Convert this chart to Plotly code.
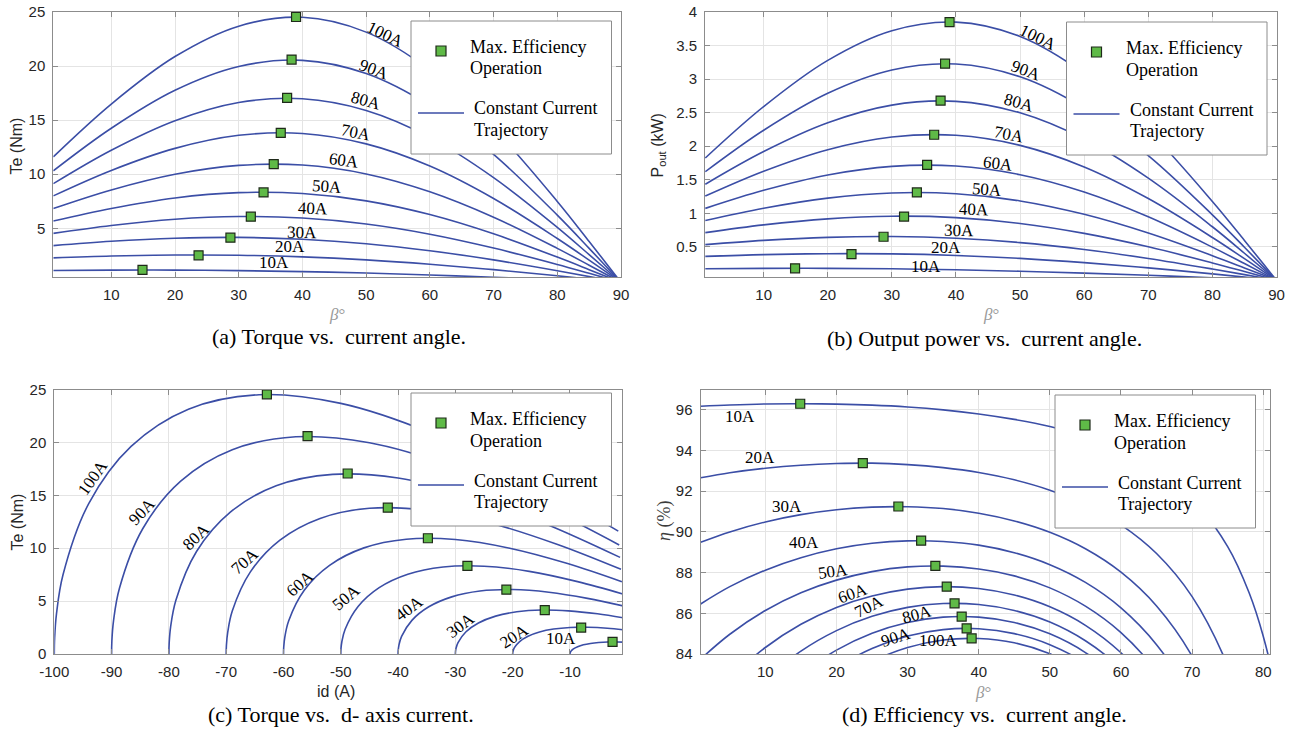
import plotly.graph_objects as go

# ---------------------------------------------------------------- data
currents = ["10A", "20A", "30A", "40A", "50A", "60A", "70A", "80A", "90A", "100A"]

# current angle samples (deg) for torque / power / d-axis current curves
beta_grid = [0.9, 10, 20, 30, 40, 50, 60, 70, 80, 85, 88, 90]
# current angle samples (deg) for efficiency curves
beta_grid_eff = [0.9, 5, 10, 15, 20, 25, 30, 35, 40, 45, 50, 55, 60, 65, 70, 75, 78, 80, 82, 85]

# electromagnetic torque Te (Nm) along each constant-current trajectory
te_10a = [1.10, 1.14, 1.14, 1.09, 1.00, 0.87, 0.69, 0.48, 0.25, 0.12, 0.05, 0.00]
te_20a = [2.27, 2.44, 2.53, 2.51, 2.36, 2.08, 1.68, 1.18, 0.61, 0.31, 0.12, 0.00]
te_30a = [3.40, 3.80, 4.08, 4.16, 3.99, 3.58, 2.93, 2.08, 1.08, 0.54, 0.22, 0.00]
te_40a = [4.53, 5.26, 5.84, 6.09, 5.95, 5.40, 4.46, 3.18, 1.66, 0.84, 0.34, 0.00]
te_50a = [5.68, 6.84, 7.81, 8.30, 8.22, 7.54, 6.27, 4.49, 2.34, 1.18, 0.47, 0.00]
te_60a = [6.83, 8.55, 10.00, 10.82, 10.85, 10.03, 8.38, 6.03, 3.15, 1.59, 0.64, 0.00]
te_70a = [8.00, 10.35, 12.39, 13.60, 13.77, 12.81, 10.76, 7.76, 4.06, 2.06, 0.83, 0.00]
te_80a = [9.13, 12.22, 14.95, 16.63, 16.98, 15.90, 13.41, 9.69, 5.09, 2.57, 1.03, 0.00]
te_90a = [10.31, 14.25, 17.76, 19.96, 20.53, 19.31, 16.34, 11.84, 6.22, 3.15, 1.26, 0.00]
te_100a = [11.61, 16.49, 20.88, 23.69, 24.51, 23.14, 19.62, 14.24, 7.49, 3.79, 1.52, 0.00]

# output power (kW)
pout_10a = [0.174, 0.179, 0.179, 0.172, 0.157, 0.136, 0.108, 0.075, 0.039, 0.019, 0.008, 0.000]
pout_20a = [0.357, 0.383, 0.397, 0.394, 0.371, 0.327, 0.264, 0.186, 0.096, 0.048, 0.019, 0.000]
pout_30a = [0.533, 0.596, 0.641, 0.653, 0.627, 0.563, 0.460, 0.326, 0.169, 0.085, 0.034, 0.000]
pout_40a = [0.712, 0.827, 0.917, 0.956, 0.935, 0.848, 0.700, 0.500, 0.260, 0.131, 0.053, 0.000]
pout_50a = [0.892, 1.075, 1.226, 1.303, 1.291, 1.184, 0.984, 0.705, 0.368, 0.186, 0.075, 0.000]
pout_60a = [1.073, 1.342, 1.571, 1.699, 1.704, 1.575, 1.317, 0.947, 0.495, 0.250, 0.100, 0.000]
pout_70a = [1.256, 1.626, 1.947, 2.136, 2.162, 2.012, 1.690, 1.219, 0.639, 0.323, 0.130, 0.000]
pout_80a = [1.433, 1.920, 2.349, 2.612, 2.668, 2.497, 2.106, 1.523, 0.799, 0.404, 0.162, 0.000]
pout_90a = [1.620, 2.238, 2.789, 3.136, 3.225, 3.034, 2.566, 1.860, 0.977, 0.494, 0.198, 0.000]
pout_100a = [1.824, 2.590, 3.279, 3.721, 3.849, 3.635, 3.082, 2.237, 1.176, 0.595, 0.239, 0.000]

# d-axis current (A) at the same samples
id_10a = [-0.16, -1.74, -3.42, -5.00, -6.43, -7.66, -8.66, -9.40, -9.85, -9.96, -9.99, -10.00]
id_20a = [-0.31, -3.47, -6.84, -10.00, -12.86, -15.32, -17.32, -18.79, -19.70, -19.92, -19.99, -20.00]
id_30a = [-0.47, -5.21, -10.26, -15.00, -19.28, -22.98, -25.98, -28.19, -29.54, -29.89, -29.98, -30.00]
id_40a = [-0.63, -6.95, -13.68, -20.00, -25.71, -30.64, -34.64, -37.59, -39.39, -39.85, -39.98, -40.00]
id_50a = [-0.79, -8.68, -17.10, -25.00, -32.14, -38.30, -43.30, -46.98, -49.24, -49.81, -49.97, -50.00]
id_60a = [-0.94, -10.42, -20.52, -30.00, -38.57, -45.96, -51.96, -56.38, -59.09, -59.77, -59.96, -60.00]
id_70a = [-1.10, -12.16, -23.94, -35.00, -45.00, -53.62, -60.62, -65.78, -68.94, -69.73, -69.96, -70.00]
id_80a = [-1.26, -13.89, -27.36, -40.00, -51.42, -61.28, -69.28, -75.18, -78.78, -79.70, -79.95, -80.00]
id_90a = [-1.41, -15.63, -30.78, -45.00, -57.85, -68.94, -77.94, -84.57, -88.63, -89.66, -89.95, -90.00]
id_100a = [-1.57, -17.36, -34.20, -50.00, -64.28, -76.60, -86.60, -93.97, -98.48, -99.62, -99.94, -100.00]

# efficiency (%) on beta_grid_eff
eta_10a = [96.18, 96.24, 96.29, 96.30, 96.28, 96.23, 96.14, 96.00, 95.80, 95.53, 95.18, 94.69, 94.02, 93.06, 91.62, 89.28, 87.02, 84.87, 81.82, 73.84]
eta_20a = [92.66, 92.91, 93.13, 93.28, 93.36, 93.38, 93.31, 93.16, 92.92, 92.56, 92.05, 91.34, 90.35, 88.94, 86.82, 83.43, 80.25, 77.28, 73.20, 63.16]
eta_30a = [89.49, 90.00, 90.49, 90.85, 91.09, 91.22, 91.24, 91.15, 90.92, 90.54, 89.98, 89.17, 88.02, 86.36, 83.89, 79.96, 76.33, 72.98, 68.46, 57.68]
eta_40a = [86.46, 87.31, 88.12, 88.73, 89.17, 89.44, 89.56, 89.53, 89.35, 88.98, 88.39, 87.52, 86.27, 84.46, 81.76, 77.48, 73.57, 70.00, 65.22, 54.09]
eta_50a = [83.75, 84.97, 86.14, 87.01, 87.63, 88.05, 88.28, 88.32, 88.18, 87.84, 87.25, 86.35, 85.05, 83.14, 80.29, 75.81, 71.72, 68.01, 63.09, 51.79]
eta_60a = [81.13, 82.78, 84.32, 85.46, 86.29, 86.85, 87.19, 87.31, 87.22, 86.90, 86.32, 85.41, 84.06, 82.09, 79.13, 74.49, 70.28, 66.48, 61.46, 50.07]
eta_70a = [78.73, 80.81, 82.73, 84.14, 85.15, 85.85, 86.29, 86.48, 86.43, 86.14, 85.57, 84.65, 83.28, 81.25, 78.22, 73.46, 69.16, 65.29, 60.21, 48.76]
eta_80a = [76.46, 79.01, 81.31, 82.99, 84.19, 85.02, 85.55, 85.81, 85.81, 85.55, 84.99, 84.07, 82.68, 80.62, 77.54, 72.69, 68.33, 64.42, 59.29, 47.81]
eta_90a = [74.36, 77.36, 80.03, 81.95, 83.32, 84.27, 84.88, 85.20, 85.24, 85.00, 84.46, 83.54, 82.13, 80.04, 76.91, 71.99, 67.57, 63.62, 58.46, 46.95]
eta_100a = [72.49, 75.91, 78.92, 81.05, 82.57, 83.63, 84.32, 84.69, 84.76, 84.55, 84.01, 83.08, 81.67, 79.55, 76.38, 71.40, 66.93, 62.95, 57.76, 46.24]

# maximum-efficiency operating point of each current level
beta_mep = [14.9, 23.7, 28.7, 31.9, 33.9, 35.5, 36.6, 37.6, 38.3, 39.0]
te_mep = [1.15, 2.50, 4.14, 6.08, 8.32, 10.94, 13.83, 17.06, 20.60, 24.54]
pout_mep = [0.18, 0.39, 0.65, 0.95, 1.31, 1.72, 2.17, 2.68, 3.23, 3.85]
id_mep = [-2.57, -8.05, -14.4, -21.1, -27.9, -34.8, -41.8, -48.8, -55.8, -62.9]
eta_mep = [96.30, 93.38, 91.25, 89.57, 88.33, 87.31, 86.49, 85.84, 85.26, 84.77]

# axis ticks
beta_ticks = [10, 20, 30, 40, 50, 60, 70, 80, 90]
beta_ticks_eff = [10, 20, 30, 40, 50, 60, 70, 80]
id_ticks = [-100, -90, -80, -70, -60, -50, -40, -30, -20, -10]
id_tick_text = ["-100", "-90", "-80", "-70", "-60", "-50", "-40", "-30", "-20", "-10"]
te_ticks_a = [5, 10, 15, 20, 25]
te_ticks_c = [0, 5, 10, 15, 20, 25]
pout_ticks = [0.5, 1, 1.5, 2, 2.5, 3, 3.5, 4]
eta_ticks = [84, 86, 88, 90, 92, 94, 96]

te_curves = [te_10a, te_20a, te_30a, te_40a, te_50a, te_60a, te_70a, te_80a, te_90a, te_100a]
pout_curves = [pout_10a, pout_20a, pout_30a, pout_40a, pout_50a, pout_60a, pout_70a, pout_80a, pout_90a, pout_100a]
id_curves = [id_10a, id_20a, id_30a, id_40a, id_50a, id_60a, id_70a, id_80a, id_90a, id_100a]
eta_curves = [eta_10a, eta_20a, eta_30a, eta_40a, eta_50a, eta_60a, eta_70a, eta_80a, eta_90a, eta_100a]

# ---------------------------------------------------------------- style
W, H = 1291, 730
BLUE = "#3b4ea6"
GREEN = "#5fba47"
EDGE = "#1f2a1a"
GRID = "#e4e4e4"
BOX = "#8c8c8c"
TICK = "#262626"
SANS = "Liberation Sans"
SERIF = "Liberation Serif"


def px(x):
    return x / W


def py(y):
    return 1 - y / H


fig = go.Figure()

panels = [
    ("x", "y", [beta_grid] * 10, te_curves, beta_mep, te_mep),
    ("x2", "y2", [beta_grid] * 10, pout_curves, beta_mep, pout_mep),
    ("x3", "y3", id_curves, te_curves, id_mep, te_mep),
    ("x4", "y4", [beta_grid_eff] * 10, eta_curves, beta_mep, eta_mep),
]

for xa, ya, xs, ys, mx, my in panels:
    for name, xv, yv in zip(currents, xs, ys):
        fig.add_trace(go.Scatter(
            x=xv, y=yv, mode="lines", name=name, xaxis=xa, yaxis=ya,
            line=dict(color=BLUE, width=1.6, shape="spline", smoothing=1.0),
            showlegend=False, hoverinfo="skip"))
    fig.add_trace(go.Scatter(
        x=mx, y=my, mode="markers", name="Max. Efficiency Operation",
        xaxis=xa, yaxis=ya, showlegend=False,
        marker=dict(symbol="square", size=9, color=GREEN,
                    line=dict(color=EDGE, width=1.2))))


def axis(domain, rng, tickvals, anchor, ticktext=None):
    ax = dict(domain=domain, range=rng, tickvals=tickvals, anchor=anchor,
              automargin=False,
              showgrid=True, gridcolor=GRID, gridwidth=1, zeroline=False,
              showline=True, linecolor=BOX, linewidth=1, mirror="ticks",
              ticks="inside", ticklen=5, tickcolor=BOX, tickwidth=1,
              ticklabelstandoff=4,
              tickfont=dict(family=SANS, size=15, color=TICK), fixedrange=True)
    if ticktext is not None:
        ax["ticktext"] = ticktext
    return ax


top = [py(277), py(12)]
bottom = [py(654), py(389.5)]

fig.update_layout(
    width=W, height=H, autosize=False, showlegend=False,
    margin=dict(l=0, r=0, t=0, b=0, pad=0, autoexpand=False),
    paper_bgcolor="white", plot_bgcolor="white",
    xaxis=axis([px(53.3), px(621)], [0.9, 90], beta_ticks, "y"),
    yaxis=axis(top, [0.5, 25], te_ticks_a, "x"),
    xaxis2=axis([px(705), px(1276.5)], [0.85, 90], beta_ticks, "y2"),
    yaxis2=axis(top, [0.05, 4.0], pout_ticks, "x2"),
    xaxis3=axis([px(54.3), px(622.3)], [-100, -0.87], id_ticks, "y3", id_tick_text),
    yaxis3=axis(bottom, [0, 25], te_ticks_c, "x3"),
    xaxis4=axis([px(700.5), px(1270)], [0.88, 80.95], beta_ticks_eff, "y4"),
    yaxis4=axis(bottom, [84, 97], eta_ticks, "x4"),
)

annotations = []
shapes = []

# current labels written along the trajectories: (x, y, angle)
label_pos = {
    ("x", "y"): [(35.6, 1.8, 0), (38.0, 3.35, 0), (39.9, 4.6, 1), (41.6, 6.85, 2),
                 (43.8, 8.85, 4), (46.6, 11.3, 7), (48.4, 13.9, 11), (49.9, 16.8, 15),
                 (51.2, 19.7, 20), (53.0, 22.9, 26)],
    ("x2", "y2"): [(35.4, 0.20, 0), (38.5, 0.49, 0), (40.4, 0.745, 1), (42.8, 1.05, 2),
                   (44.8, 1.36, 4), (46.5, 1.735, 7), (48.2, 2.175, 11), (49.8, 2.65, 15),
                   (50.9, 3.125, 20), (52.8, 3.625, 26)],
    ("x3", "y3"): [(-11.6, 1.42, 0), (-19.8, 1.7, -33), (-29.1, 2.65, -37), (-38.1, 4.33, -37),
                   (-49.1, 5.37, -40), (-57.1, 6.69, -41), (-66.8, 8.74, -42), (-75.2, 11.11, -44),
                   (-84.7, 13.48, -47), (-93.3, 16.73, -55)],
    ("x4", "y4"): [(6.5, 95.67, 0), (9.2, 93.67, 0), (13.0, 91.25, 0), (15.4, 89.48, 0),
                   (19.5, 88.05, -8), (22.3, 86.95, -20), (24.6, 86.34, -27), (31.3, 85.94, -15),
                   (28.3, 84.8, -18), (34.4, 84.66, 0)],
}
for (xa, ya), pos in label_pos.items():
    for name, (lx, ly, ang) in zip(currents, pos):
        annotations.append(dict(
            x=lx, y=ly, xref=xa, yref=ya, text=name, showarrow=False,
            textangle=ang, xanchor="center", yanchor="middle",
            font=dict(family=SERIF, size=17, color="black")))


def legend_box(x0, y0):
    shapes.append(dict(type="rect", xref="paper", yref="paper", layer="above",
                       x0=px(x0), x1=px(x0 + 200.5), y0=py(y0 + 133), y1=py(y0),
                       line=dict(color=BOX, width=1), fillcolor="white"))
    shapes.append(dict(type="rect", xref="paper", yref="paper", layer="above",
                       x0=px(x0 + 25), x1=px(x0 + 35), y0=py(y0 + 35), y1=py(y0 + 25),
                       line=dict(color=EDGE, width=1.2), fillcolor=GREEN))
    shapes.append(dict(type="line", xref="paper", yref="paper", layer="above",
                       x0=px(x0 + 7), x1=px(x0 + 53), y0=py(y0 + 92), y1=py(y0 + 92),
                       line=dict(color=BLUE, width=1.6)))
    for tx, ty, t in [(57, 26, "Max. Efficiency"), (57, 47.5, "Operation"),
                      (61, 87.5, "Constant Current"), (61, 109, "Trajectory")]:
        annotations.append(dict(
            x=px(x0 + tx), y=py(y0 + ty), xref="paper", yref="paper", text=t,
            showarrow=False, xanchor="left", yanchor="middle",
            font=dict(family=SERIF, size=18, color="black")))


legend_box(411, 21)
legend_box(1066.5, 22)
legend_box(411, 393)
legend_box(1055, 395)


def text(x, y, t, family, size, color, angle=0):
    annotations.append(dict(
        x=px(x), y=py(y), xref="paper", yref="paper", text=t, showarrow=False,
        xanchor="center", yanchor="middle", textangle=angle,
        font=dict(family=family, size=size, color=color)))


# axis titles
text(16.5, 146, "Te (Nm)", SANS, 16, TICK, -90)
text(658.5, 146, "P<sub>out</sub> (kW)", SANS, 16, TICK, -90)
text(16.5, 522, "Te (Nm)", SANS, 16, TICK, -90)
text(664, 521, "<i>η</i> (%)", SERIF, 18, "#3c3c3c", -90)
text(337, 314, "<i>β</i>°", SERIF, 17, "#9a9a9a")
text(991, 315, "<i>β</i>°", SERIF, 17, "#9a9a9a")
text(336, 691, "id (A)", SANS, 16, TICK)
text(983, 692, "<i>β</i>°", SERIF, 17, "#9a9a9a")

# sub-figure captions
text(339, 337, "(a) Torque vs.\u00a0 current angle.", SERIF, 22, "black")
text(984, 338, "(b) Output power vs.\u00a0 current angle.", SERIF, 22, "black")
text(341, 714, "(c) Torque vs.\u00a0 d- axis current.", SERIF, 22, "black")
text(984, 714, "(d) Efficiency vs.\u00a0 current angle.", SERIF, 22, "black")

fig.update_layout(annotations=annotations, shapes=shapes)
fig.write_html("out.html")
